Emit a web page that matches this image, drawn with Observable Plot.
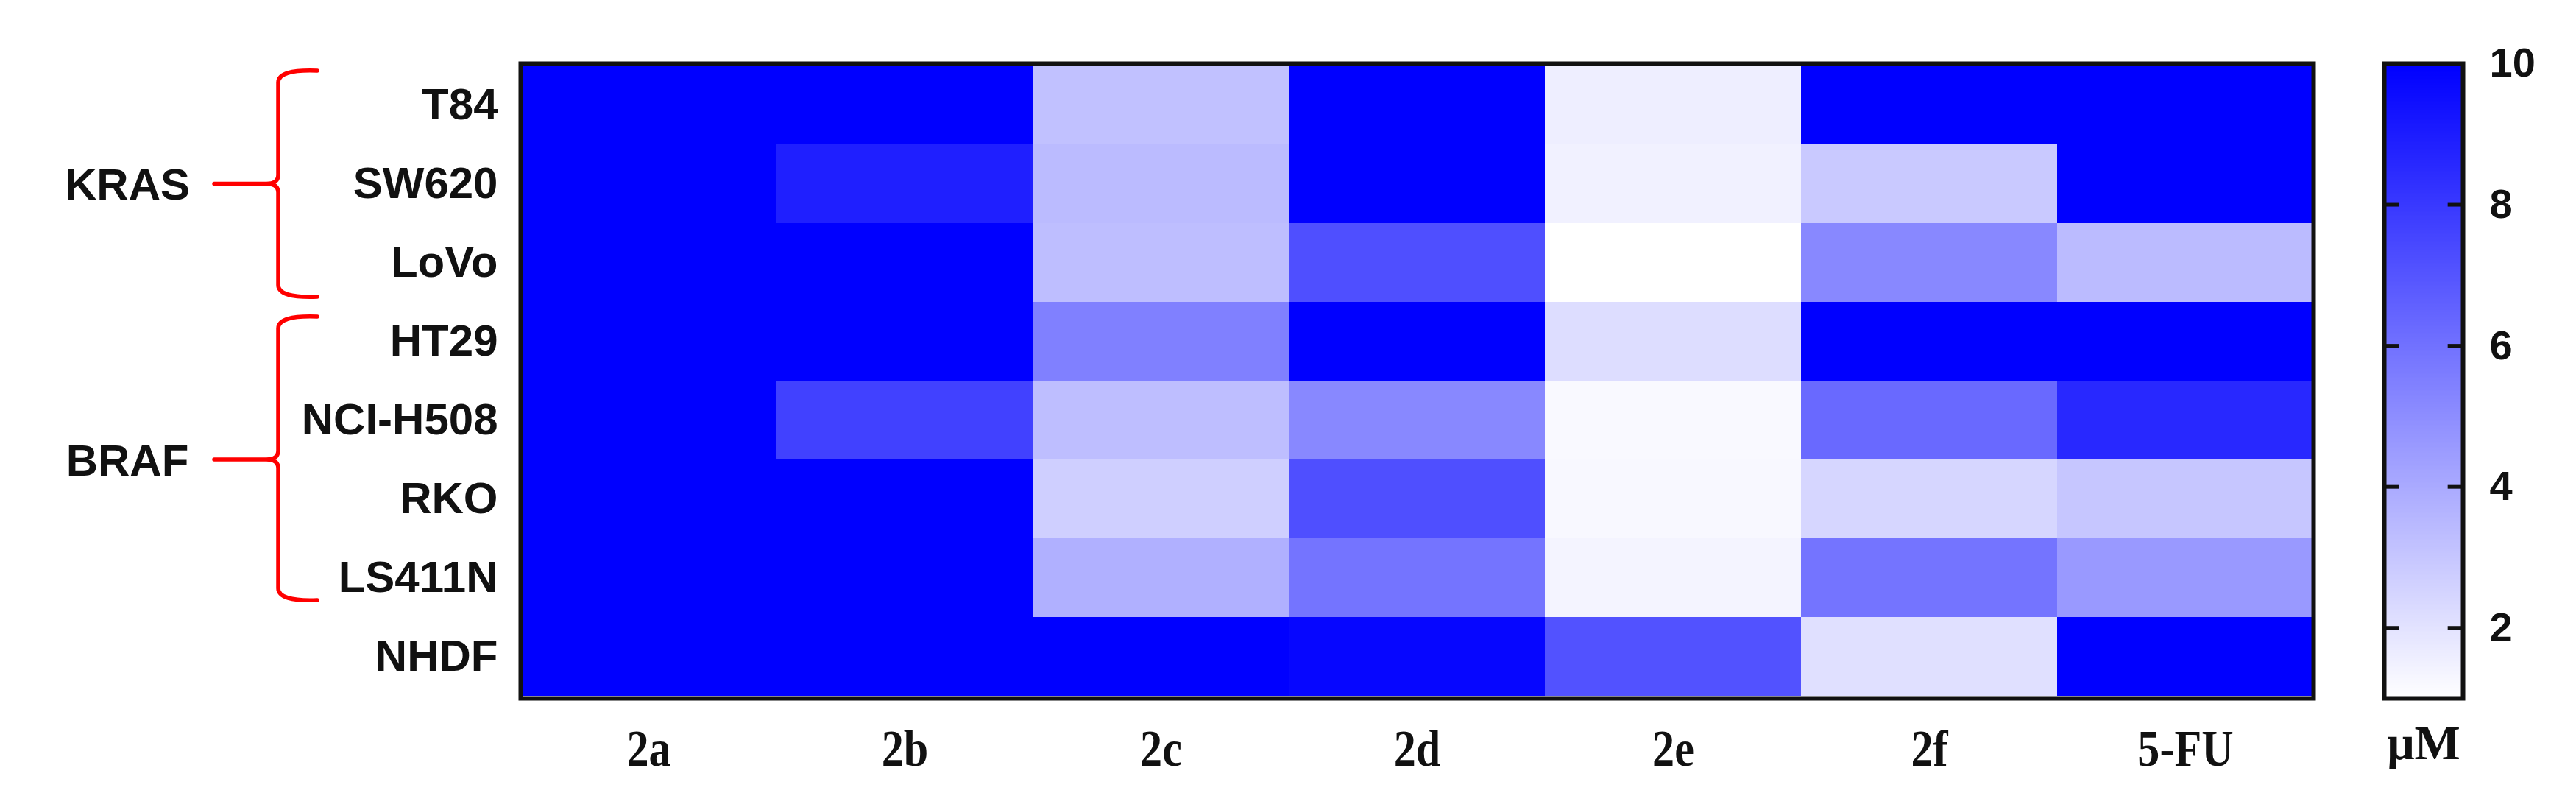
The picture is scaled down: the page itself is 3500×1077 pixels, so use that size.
<!DOCTYPE html>
<html>
<head>
<meta charset="utf-8">
<script src="https://cdn.jsdelivr.net/npm/d3@7"></script>
<script src="https://cdn.jsdelivr.net/npm/@observablehq/plot@0.6"></script>
<style>
  html, body { margin: 0; padding: 0; background: white; }
  #wrap { position: relative; width: 3500px; height: 1077px; }
  #wrap svg { position: absolute; left: 0; top: 0; }
</style>
</head>
<body>
<div id="wrap"></div>
<script>
// ---- data ----
const compounds = ["2a", "2b", "2c", "2d", "2e", "2f", "5-FU"];
const cellLines = ["T84", "SW620", "LoVo", "HT29", "NCI-H508", "RKO", "LS411N", "NHDF"];
// IC50 values (µM) per compound, in cellLines order
const v2a  = [10, 10, 10, 10, 10, 10, 10, 10];
const v2b  = [10, 8.9, 10, 10, 7.7, 10, 10, 10];
const v2c  = [3.2, 3.4, 3.3, 5.5, 3.3, 2.7, 3.8, 10];
const v2d  = [10, 10, 7.2, 10, 5.2, 7.2, 5.9, 9.8];
const v2e  = [1.6, 1.5, 1.0, 2.2, 1.2, 1.25, 1.4, 7.1];
const v2f  = [10, 2.9, 5.2, 10, 6.3, 2.45, 5.9, 2.1];
const v5FU = [10, 10, 3.4, 10, 8.6, 3.0, 4.6, 10];
const colorTicks = [2, 4, 6, 8, 10];
const unitLabel = "μM";
const groupNames = ["KRAS", "BRAF"];
const groupRows = [["T84", "SW620", "LoVo"], ["HT29", "NCI-H508", "RKO", "LS411N"]];

const seriesByCompound = [v2a, v2b, v2c, v2d, v2e, v2f, v5FU];
const table = [];
compounds.forEach((c, i) => cellLines.forEach((l, j) => table.push({compound: c, line: l, value: seriesByCompound[i][j]})));
const groups = groupNames.map((name, i) => ({name, rows: groupRows[i]}));

const colorScale = {type: "linear", domain: [1, 10], range: ["#ffffff", "#0000ff"], interpolate: "rgb"};
const sans = "'Liberation Sans', Arial, sans-serif";
const serif = "'Liberation Serif', 'Times New Roman', serif";

// brace + group label custom mark
function braces(index, scales, values, dimensions) {
  const g = d3.create("svg:g");
  const L = dimensions.marginLeft;
  const xEnd = L - 276, xV = L - 329, xTip = L - 416, xLabel = L - 534;
  const bw = scales.y.bandwidth ? scales.y.bandwidth() : 0;
  groups.forEach((grp, gi) => {
    const yFirst = scales.y(grp.rows[0]);
    const yLast = scales.y(grp.rows[grp.rows.length - 1]) + bw;
    const top = yFirst + (gi === 0 ? 7 : 20), bot = yLast - (gi === 0 ? 7 : 23);
    const mid = (yFirst + yLast) / 2;
    const p = d3.path();
    p.moveTo(xEnd, top);
    p.quadraticCurveTo(xV, top - 2, xV, top + 16);
    p.lineTo(xV, mid - 12);
    p.quadraticCurveTo(xV, mid, xV - 16, mid);
    p.lineTo(xTip, mid);
    p.moveTo(xV - 16, mid);
    p.quadraticCurveTo(xV, mid, xV, mid + 12);
    p.lineTo(xV, bot - 16);
    p.quadraticCurveTo(xV, bot + 2, xEnd, bot);
    g.append("path").attr("d", p.toString())
      .attr("fill", "none").attr("stroke", "#ff0000").attr("stroke-width", 5.5)
      .attr("stroke-linecap", "round").attr("stroke-linejoin", "round");
    g.append("text").attr("x", xLabel).attr("y", mid).attr("dy", "0.36em")
      .attr("text-anchor", "middle").attr("font-family", sans).attr("font-weight", "bold")
      .attr("font-size", 60).attr("fill", "#111").text(grp.name);
  });
  return g.node();
}

const main = Plot.plot({
  width: 3500, height: 1077,
  marginLeft: 707, marginRight: 357, marginTop: 86, marginBottom: 129,
  style: {background: "white"},
  x: {domain: compounds, padding: 0, label: null},
  y: {domain: cellLines, padding: 0, label: null},
  color: colorScale,
  marks: [
    Plot.cell(table, {x: "compound", y: "line", fill: "value", inset: 0}),
    Plot.frame({stroke: "#111", strokeWidth: 6}),
    Plot.axisX({anchor: "bottom", tickSize: 0, tickPadding: 42, fontSize: 70, fontFamily: serif, fontWeight: "bold", fill: "#111", label: null}),
    Plot.axisY({anchor: "left", tickSize: 0, tickPadding: 31, fontSize: 60, fontFamily: sans, fontWeight: "bold", fill: "#111", label: null}),
    braces
  ]
});

// horizontally condense the serif column labels like the reference
d3.select(main).selectAll("g[aria-label='x-axis tick label'] text").each(function() {
  const t = this.getAttribute("transform") || "";
  this.setAttribute("transform", t + " scale(0.86,1)");
});

const bar = Plot.plot({
  width: 3500, height: 1077,
  marginLeft: 3239, marginRight: 154, marginTop: 86, marginBottom: 129,
  style: {background: "transparent"},
  x: {domain: [0, 1], axis: null},
  y: {domain: [1, 10], label: null},
  color: colorScale,
  marks: [
    Plot.raster({fill: (x, y) => y, x1: 0, x2: 1, y1: 1, y2: 10, width: 1, height: 400, imageRendering: "auto"}),
    Plot.ruleY(colorTicks.slice(0, -1), {x1: 0, x2: 0.19, stroke: "#111", strokeWidth: 5}),
    Plot.ruleY(colorTicks.slice(0, -1), {x1: 0.81, x2: 1, stroke: "#111", strokeWidth: 5}),
    Plot.frame({stroke: "#111", strokeWidth: 6}),
    Plot.axisY({anchor: "right", ticks: colorTicks, tickSize: 0, tickPadding: 36, fontSize: 56, fontFamily: sans, fontWeight: "bold", fill: "#111", label: null, textAnchor: "start"}),
    Plot.text([unitLabel], {frameAnchor: "bottom", dy: 82, lineAnchor: "bottom", text: d => d, fontSize: 66, fontFamily: serif, fontWeight: "bold", fill: "#111"})
  ]
});

const wrap = document.getElementById("wrap");
wrap.appendChild(main);
wrap.appendChild(bar);
</script>
</body>
</html>
